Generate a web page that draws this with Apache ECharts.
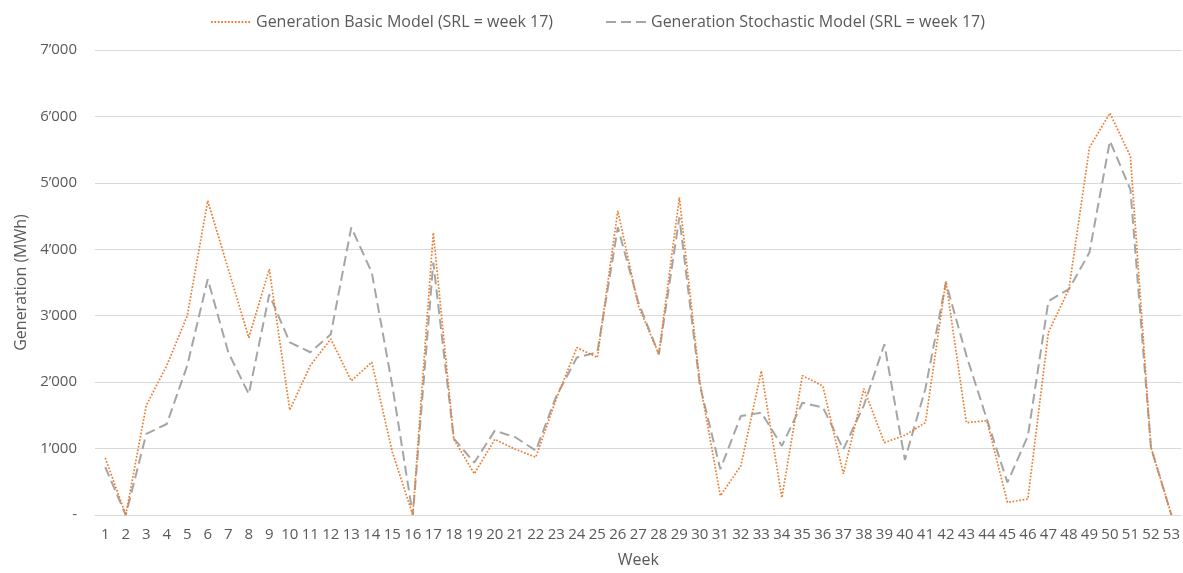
<!DOCTYPE html>
<html>
<head>
<meta charset="utf-8">
<style>
  html, body { margin: 0; padding: 0; background: #fff; }
  #chart { width: 1183px; height: 573px; }
</style>
</head>
<body>
<div id="chart"></div>
<script src="https://cdn.jsdelivr.net/npm/echarts@6/dist/echarts.min.js"></script>
<script>
// weeks 1..53
var weeks = [];
for (var w = 1; w <= 53; w++) weeks.push(String(w));

// Generation Basic Model (SRL = week 17), MWh
var basicModel = [
  860, 0, 1650, 2250, 3000, 4730, 3700, 2670, 3700, 1580,
  2250, 2650, 2020, 2300, 950, 0, 4250, 1140, 620, 1140,
  990, 870, 1750, 2520, 2370, 4580, 3150, 2420, 4780, 2000,
  290, 740, 2170, 260, 2100, 1940, 620, 1900, 1090, 1200,
  1390, 3520, 1390, 1420, 190, 240, 2750, 3400, 5530, 6050,
  5400, 1020, 0
];

// Generation Stochastic Model (SRL = week 17), MWh
var stochasticModel = [
  720, 0, 1220, 1370, 2250, 3550, 2450, 1820, 3320, 2600,
  2450, 2720, 4330, 3650, 1950, 0, 3800, 1150, 790, 1270,
  1170, 970, 1790, 2370, 2450, 4330, 3200, 2420, 4480, 1950,
  690, 1490, 1540, 1040, 1690, 1620, 990, 1650, 2570, 830,
  1900, 3500, 2400, 1440, 490, 1190, 3220, 3400, 3950, 5630,
  4900, 1020, 0
];

var chart = echarts.init(document.getElementById('chart'));

var option = {
  backgroundColor: '#ffffff',
  textStyle: { fontFamily: 'Open Sans' },
  legend: {
    top: 9,
    left: 205,
    itemWidth: 40,
    itemHeight: 10,
    itemGap: 52,
    itemStyle: { opacity: 0 },
    textStyle: { color: '#595959', fontSize: 16 },
    data: ['Generation Basic Model (SRL = week 17)', 'Generation Stochastic Model (SRL = week 17)']
  },
  grid: { left: 95, right: 1, top: 50, bottom: 57 },
  xAxis: {
    type: 'category',
    data: weeks,
    boundaryGap: true,
    name: 'Week',
    nameLocation: 'middle',
    nameGap: 37,
    nameTextStyle: { color: '#595959', fontSize: 16 },
    axisLine: { lineStyle: { color: '#d9d9d9' } },
    axisTick: { show: false },
    axisLabel: { interval: 0, color: '#595959', fontSize: 15, margin: 12 }
  },
  yAxis: {
    type: 'value',
    min: 0,
    max: 7000,
    interval: 1000,
    name: 'Generation (MWh)',
    nameLocation: 'middle',
    nameGap: 65,
    nameTextStyle: { color: '#595959', fontSize: 16 },
    axisLine: { show: false },
    axisTick: { show: false },
    splitLine: { lineStyle: { color: '#d9d9d9', width: 1 } },
    axisLabel: {
      color: '#595959',
      fontSize: 15,
      margin: 18,
      formatter: function (v) {
        if (v === 0) return '-';
        return Math.floor(v / 1000) + '\u2019000';
      }
    }
  },
  series: [
    {
      name: 'Generation Basic Model (SRL = week 17)',
      type: 'line',
      data: basicModel,
      symbol: 'none',
      z: 3,
      itemStyle: { color: '#ED7D31' },
      lineStyle: { color: '#ED7D31', width: 1.7, type: [1.7, 1.7] }
    },
    {
      name: 'Generation Stochastic Model (SRL = week 17)',
      type: 'line',
      data: stochasticModel,
      symbol: 'none',
      z: 2,
      itemStyle: { color: '#A5A5A5' },
      lineStyle: { color: '#A5A5A5', width: 2, type: [10, 5] }
    }
  ]
};

chart.setOption(option);
</script>
</body>
</html>
